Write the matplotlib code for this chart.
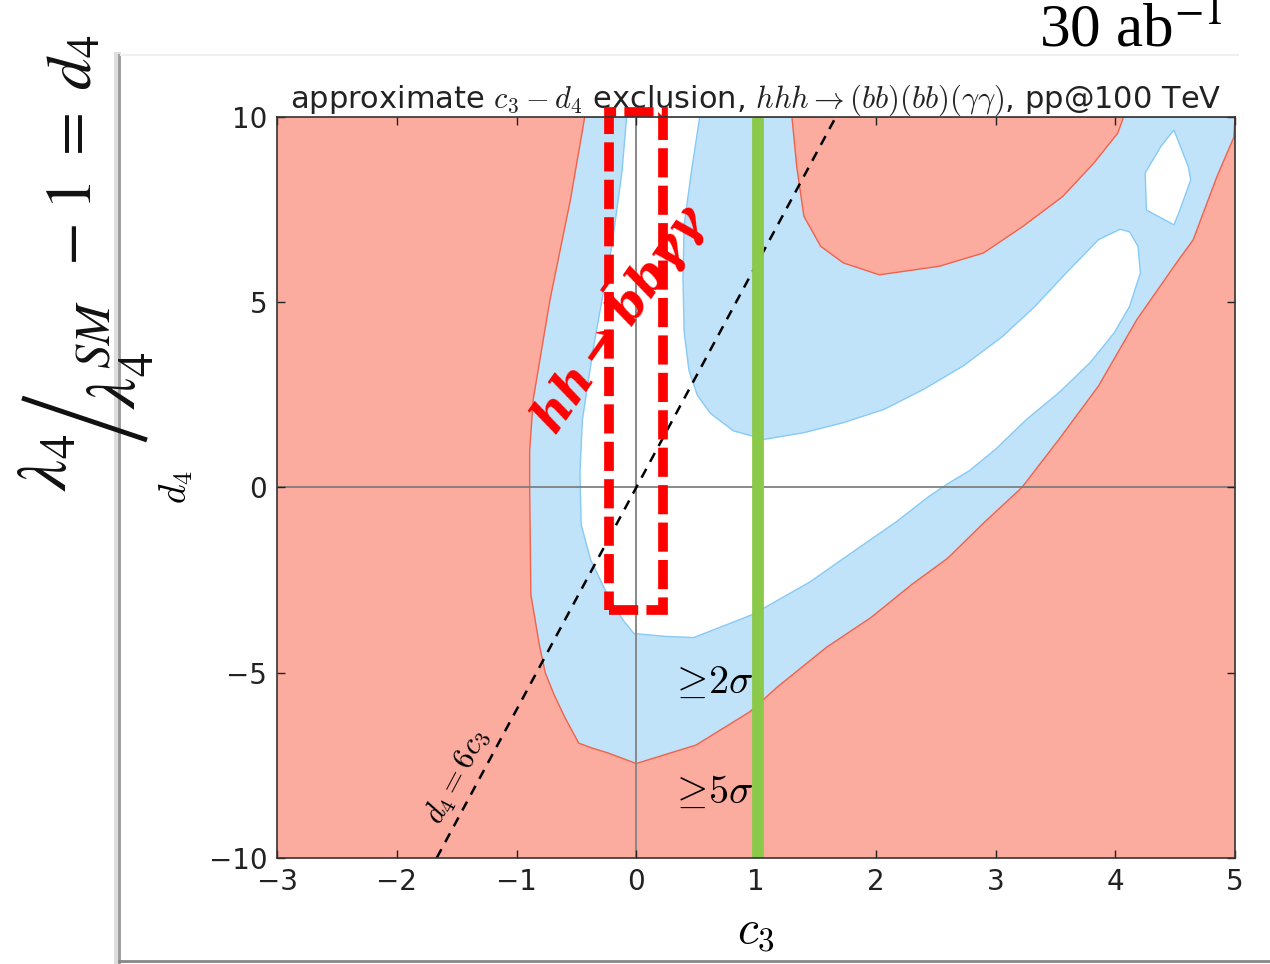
import numpy as np
import matplotlib
matplotlib.use("Agg")
import matplotlib.pyplot as plt
from matplotlib.patches import Polygon, Rectangle
from matplotlib.lines import Line2D

plt.rcParams['mathtext.fontset'] = 'cm'
# bold italic serif for the red channel label (custom math font set)
plt.rcParams['mathtext.it'] = 'DejaVu Serif:italic:bold'
plt.rcParams['mathtext.rm'] = 'DejaVu Serif:bold'
plt.rcParams['mathtext.bf'] = 'DejaVu Serif:bold'

# 5 sigma contour: left arm, bottom, lower-right strip (c3, d4)
sig5_c3 = [-0.43, -0.55, -0.72, -0.86, -0.89, -0.89, -0.88, -0.81, -0.76, -0.69,
           -0.60, -0.48, -0.37, -0.24, 0.0, 0.25, 0.50, 0.95, 1.18, 1.59,
           1.96, 2.30, 2.60, 2.91, 3.22, 3.53, 3.86, 4.18, 4.53, 4.65,
           4.85, 4.99, 5.0]
sig5_d4 = [10.0, 7.76, 5.07, 2.38, 1.0, 0.0, -2.89, -4.23, -5.0, -5.56,
           -6.18, -6.90, -7.03, -7.16, -7.45, -7.20, -6.95, -6.05, -5.38, -4.31,
           -3.51, -2.62, -1.91, -0.93, 0.0, 1.30, 2.74, 4.53, 6.15, 6.68,
           8.40, 9.45, 10.0]

# 5 sigma island at large c3 and d4
isl_c3 = [1.30, 1.34, 1.40, 1.54, 1.73, 2.03, 2.53, 2.90, 3.23, 3.56, 3.82, 4.02, 4.07]
isl_d4 = [10.0, 8.66, 7.32, 6.51, 6.06, 5.74, 5.97, 6.33, 7.05, 7.85, 8.75, 9.56, 10.0]

# 2 sigma contour (allowed band)
sig2_c3 = [-0.08, -0.12, -0.20, -0.28, -0.36, -0.45, -0.47, -0.46, -0.38, -0.245,
           -0.11, -0.02, 0.25, 0.48, 0.97, 1.45, 1.83, 2.17, 2.44, 2.60,
           2.78, 3.00, 3.26, 3.53, 3.79, 3.99, 4.12, 4.21, 4.19, 4.12,
           4.04, 3.86, 3.59, 3.33, 3.06, 2.73, 2.40, 2.07, 1.73, 1.40,
           1.07, 0.81, 0.62, 0.51, 0.44, 0.40, 0.39, 0.40, 0.46, 0.53]
sig2_d4 = [10.0, 8.50, 6.60, 5.17, 3.73, 1.82, 0.40, -1.0, -1.96, -2.86,
           -3.58, -3.94, -4.02, -4.05, -3.43, -2.55, -1.69, -0.93, -0.25, 0.10,
           0.45, 1.03, 1.84, 2.56, 3.37, 4.17, 4.89, 5.79, 6.51, 6.90,
           6.97, 6.69, 5.79, 4.89, 4.08, 3.28, 2.65, 2.11, 1.75, 1.48,
           1.30, 1.53, 2.00, 2.49, 3.16, 4.21, 5.65, 7.08, 8.52, 10.0]

# small 2 sigma hole near the top right
hole_c3 = [4.49, 4.61, 4.63, 4.54, 4.49, 4.26, 4.25, 4.38]
hole_d4 = [9.65, 8.66, 8.30, 7.49, 7.09, 7.49, 8.49, 9.20]

# benchmark line d4 = 6 c3 and the SM value c3 = 1
line_c3 = [-10 / 6, 10 / 6]
line_d4 = [6 * c for c in line_c3]
c3_sm = 1.02

# region of the hh -> bb gamma gamma measurement
box_c3 = [-0.23, 0.225]
box_d4 = [-3.31, 10.13]

xticks = [-3, -2, -1, 0, 1, 2, 3, 4, 5]
yticks = [-10, -5, 0, 5, 10]

red_fill = '#FBAC9E'
red_edge = '#F0624C'
blue_fill = '#C0E3FA'
blue_edge = '#86CAF5'

W, H = 1270, 964
fig = plt.figure(figsize=(W / 100, H / 100), dpi=100)
ax = fig.add_axes([277 / W, 1 - 858 / H, 958 / W, 741 / H])
ax.set_facecolor(red_fill)

ax.add_patch(Polygon(np.column_stack([sig5_c3, sig5_d4]), closed=True,
                     facecolor=blue_fill, edgecolor=red_edge, lw=1.0, zorder=1))
ax.add_patch(Polygon(np.column_stack([isl_c3, isl_d4]), closed=True,
                     facecolor=red_fill, edgecolor=red_edge, lw=1.0, zorder=1.1))
ax.add_patch(Polygon(np.column_stack([sig2_c3, sig2_d4]), closed=True,
                     facecolor='white', edgecolor=blue_edge, lw=1.0, zorder=1.2))
ax.add_patch(Polygon(np.column_stack([hole_c3, hole_d4]), closed=True,
                     facecolor='white', edgecolor=blue_edge, lw=1.0, zorder=1.2))

ax.axhline(0, color='#777777', lw=1.2, zorder=1.5)
ax.axvline(0, color='#888888', lw=1.4, zorder=1.5)

ax.plot(line_c3, line_d4, color='black', lw=1.8, dashes=(4, 3.2), zorder=2)
ax.text(-1.50, -7.8, r'$d_4=6c_3$', fontsize=22, rotation=62,
        ha='center', va='center', rotation_mode='anchor', zorder=5)

ax.axvline(c3_sm, color='#8BC94B', lw=8.5, zorder=3)

ax.add_patch(Rectangle((box_c3[0], box_d4[0]), box_c3[1] - box_c3[0],
                       box_d4[1] - box_d4[0], fill=False, edgecolor='#FF0000',
                       lw=7, linestyle=(0, (3.0, 0.85)), clip_on=False, zorder=4))
ax.text(-0.15, 4.6, r'$hh\to\bar{b}b\gamma\gamma$', color='#FF0000', fontsize=35,
        rotation=55, ha='center', va='center', rotation_mode='anchor',
        math_fontfamily='custom', zorder=5)

ax.text(0.27, -5.25, r'$\geq\!2\sigma$', fontsize=29, ha='left', va='center', zorder=5)
ax.text(0.27, -8.22, r'$\geq\!5\sigma$', fontsize=29, ha='left', va='center', zorder=5)

ax.set_xlim(-3, 5)
ax.set_ylim(-10, 10)
ax.set_xticks(xticks)
ax.set_yticks(yticks)
ax.tick_params(direction='in', top=True, right=True, length=6, width=1,
               labelsize=20, pad=7, colors='#222222')
for sp in ax.spines.values():
    sp.set_linewidth(1.2)
    sp.set_color('#333333')
    sp.set_zorder(6)

ax.set_title(r'approximate $c_3-d_4$ exclusion, $hhh\to(bb)(bb)(\gamma\gamma)$, pp@100 TeV',
             fontsize=22, color='#222222', pad=7)
ax.set_xlabel(r'$c_3$', fontsize=34)
ax.xaxis.set_label_coords(0.5, -0.068)
ax.set_ylabel(r'$d_4$', fontsize=27)
ax.yaxis.set_label_coords(-0.086, 0.5)

# frame of the pasted panel
fig.add_artist(Line2D([0.0925, 0.0925], [0.0, 0.943], transform=fig.transFigure,
                      color='#dddddd', lw=5))
fig.add_artist(Line2D([0.094, 0.094], [0.0, 0.943], transform=fig.transFigure,
                      color='#9a9a9a', lw=2))
fig.add_artist(Line2D([0.095, 0.975], [0.943, 0.943], transform=fig.transFigure,
                      color='#f0f0f0', lw=1.5))
fig.add_artist(Line2D([0.094, 1.0], [0.003, 0.003], transform=fig.transFigure,
                      color='#888888', lw=2))


def px_text(x, y, s, **kw):
    fig.text(x / W, 1 - y / H, s, rotation=90, ha='center', va='center',
             color='#111111', math_fontfamily='stix', **kw)


# lambda_4 / lambda_4^SM - 1 = d_4, set as a skewed fraction (read bottom to top)
px_text(47, 462, r'$\lambda_4$', fontsize=50)
fig.add_artist(Line2D([22 / W, 147 / W], [1 - 398 / H, 1 - 440 / H],
                      transform=fig.transFigure, color='#111111', lw=3.5,
                      solid_capstyle='butt'))
px_text(116, 354, r'$\lambda_4^{SM}$', fontsize=50)
px_text(74, 150, r'$-\;1\;=\;d_4$', fontsize=46)

fig.text(0.962, 0.952, r'30 ab$^{-1}$', fontsize=44, family='Liberation Serif',
         math_fontfamily='stix', ha='right', va='baseline')

fig.savefig('out.png', dpi=100)
